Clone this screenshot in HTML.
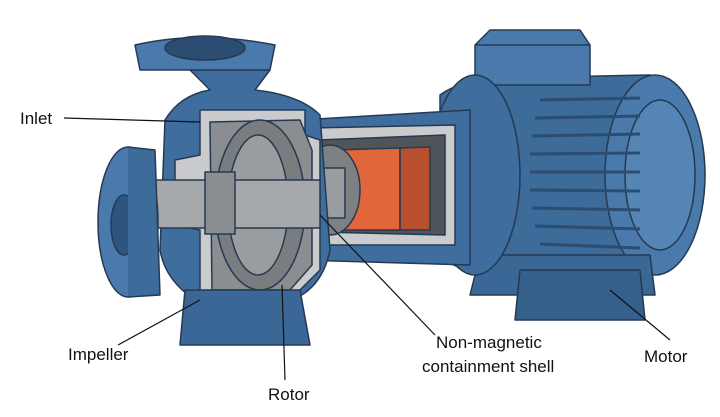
<!DOCTYPE html>
<html><head><style>
html,body{margin:0;padding:0;background:#fff;width:720px;height:417px;overflow:hidden}
svg{display:block}
text{font-family:"Liberation Sans",sans-serif;font-size:17px;fill:#111}
</style></head><body>
<svg width="720" height="417" viewBox="0 0 720 417" xmlns="http://www.w3.org/2000/svg">
<g stroke="#253a52" stroke-width="1.5" stroke-linejoin="round">
<!-- motor body -->
<path d="M440 95 Q460 80 500 78 L650 75 Q700 80 705 175 Q700 270 650 275 L500 275 Q455 272 440 255 Z" fill="#3d6b9a"/>
<ellipse cx="655" cy="175" rx="50" ry="100" fill="#4a7aab"/>
<ellipse cx="660" cy="175" rx="35" ry="75" fill="#5585b5"/>
<g stroke="#2c4d72" stroke-width="3" fill="none">
<path d="M540 100 L640 98"/><path d="M535 118 L640 116"/><path d="M532 136 L640 134"/><path d="M530 154 L640 153"/><path d="M530 172 L640 172"/><path d="M530 190 L640 191"/><path d="M532 208 L640 210"/><path d="M535 226 L640 229"/><path d="M540 244 L640 248"/>
</g>
<!-- terminal box -->
<path d="M475 45 L490 30 L580 30 L590 45 L590 85 L475 85 Z" fill="#4a7aab"/>
<path d="M475 45 L590 45" fill="none"/>
<!-- motor feet -->
<path d="M480 255 L650 255 L655 295 L470 295 Z" fill="#3a6795"/>
<path d="M520 270 L640 270 L645 320 L515 320 Z" fill="#35608c"/>
<!-- motor flange -->
<ellipse cx="475" cy="175" rx="45" ry="100" fill="#3f6e9e"/>
<!-- containment tube -->
<path d="M300 120 L470 110 L470 265 L300 260 Z" fill="#3f6e9e"/>
<path d="M310 128 L455 125 L455 245 L310 245 Z" fill="#c9cbcc"/>
<path d="M318 140 L445 135 L445 235 L318 232 Z" fill="#505559"/>
<path d="M335 150 L400 148 L400 230 L335 230 Z" fill="#e1663c"/>
<path d="M400 148 L430 147 L430 230 L400 230 Z" fill="#b8502f"/>
<ellipse cx="330" cy="190" rx="30" ry="45" fill="#7d8184"/>
<rect x="290" y="168" width="55" height="50" fill="#9a9d9f"/>
<!-- pump casing -->
<path d="M165 120 Q180 95 210 90 L190 70 L270 70 L255 90 Q300 95 320 115 L330 250 Q320 300 270 305 L280 330 L190 330 L195 300 Q165 280 160 250 Z" fill="#3f6e9e"/>
<path d="M200 110 L305 110 L305 135 L320 140 L320 270 L290 300 L200 300 L200 230 L175 225 L175 160 L200 155 Z" fill="#c9cbcc"/>
<path d="M210 122 L300 120 L312 150 L312 265 L290 290 L212 290 Z" fill="#8b8e90"/>
<ellipse cx="260" cy="205" rx="45" ry="85" fill="#7a7d80"/>
<ellipse cx="258" cy="205" rx="30" ry="70" fill="#9a9d9f"/>
<!-- shaft -->
<rect x="150" y="180" width="170" height="48" fill="#a6a9ab"/>
<rect x="205" y="172" width="30" height="62" fill="#8b8e90"/>
<!-- top flange -->
<path d="M135 45 Q200 30 275 45 L270 70 L140 70 Z" fill="#4a7aab"/>
<ellipse cx="205" cy="48" rx="40" ry="12" fill="#2c4d72"/>
<!-- inlet flange -->
<ellipse cx="128" cy="222" rx="30" ry="75" fill="#4a7aab"/>
<ellipse cx="124" cy="225" rx="13" ry="30" fill="#2e5580"/>
<path d="M128 147 L155 150 L160 295 L128 297" fill="#3d6b9a"/>
<!-- casing foot -->
<path d="M185 290 L300 290 L310 345 L180 345 Z" fill="#3a6795"/>
</g>
<g stroke="#111" stroke-width="1.2" fill="none">
<path d="M64 118 L200 122"/>
<path d="M118 345 L200 300"/>
<path d="M285 380 L282 285"/>
<path d="M435 335 L320 215"/>
<path d="M670 340 L610 290"/>
</g>
<text x="20" y="124">Inlet</text>
<text x="68" y="360">Impeller</text>
<text x="268" y="400">Rotor</text>
<text x="436" y="348">Non-magnetic</text>
<text x="422" y="372">containment shell</text>
<text x="644" y="362">Motor</text>
</svg>
</body></html>
